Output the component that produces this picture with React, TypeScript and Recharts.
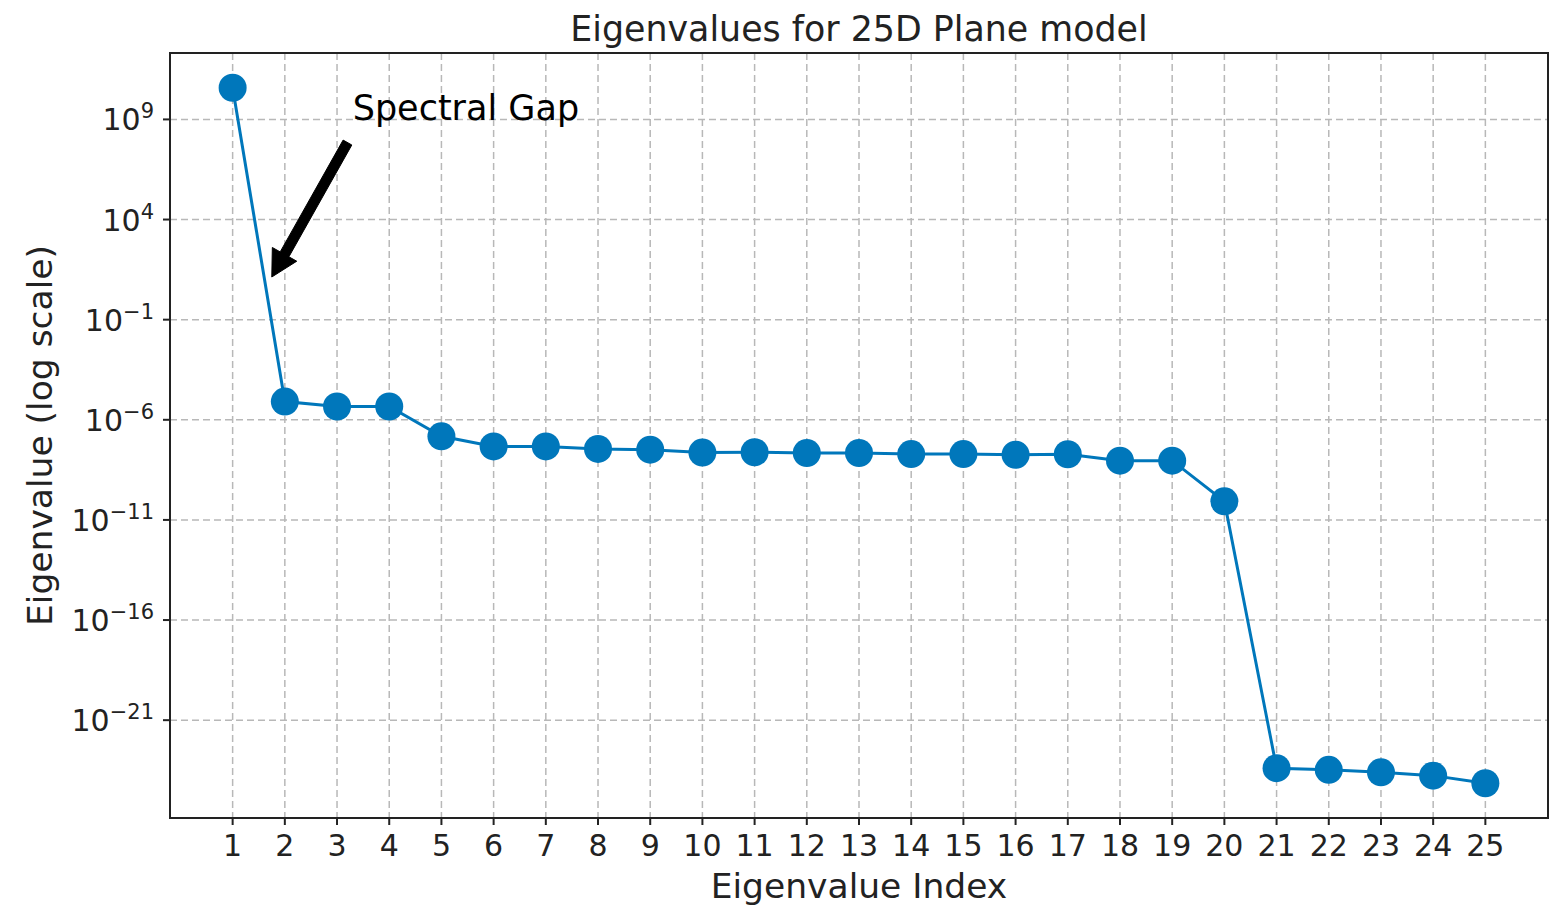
import React from 'react';
import {
  LineChart,
  Line,
  XAxis,
  YAxis,
  CartesianGrid,
  ReferenceArea,
  ReferenceLine,
  ReferenceDot,
} from 'recharts';

const FONT = '"DejaVu Sans", sans-serif';
const BLUE = '#0077bb';
const INK = '#222';

const indices = [1, 2, 3, 4, 5, 6, 7, 8, 9, 10, 11, 12, 13, 14, 15, 16, 17, 18, 19, 20, 21, 22, 23, 24, 25];
const eigenvalues = [
  3.8e10, 8.1e-6, 4.6e-6, 4.6e-6, 1.5e-7, 4.7e-8, 4.7e-8, 3.5e-8, 3.2e-8, 2.3e-8,
  2.4e-8, 2.2e-8, 2.2e-8, 1.95e-8, 1.95e-8, 1.8e-8, 1.9e-8, 9.1e-9, 9.1e-9, 8.5e-11,
  4.0e-24, 3.3e-24, 2.5e-24, 1.7e-24, 7.1e-25,
];
const yTicks = [1e9, 1e4, 1e-1, 1e-6, 1e-11, 1e-16, 1e-21];

// annotation: text anchor and arrow (tail -> tip), in data coordinates
const gapText = { x: 3.3, y: 1e9 };
const gapArrow = [
  { x: 3.2, y: 7e7 },
  { x: 1.75, y: 13.5 },
];

const data = indices.map((idx, i) => ({ idx, value: eigenvalues[i] }));

// 5% padding like matplotlib autoscale
const logs = eigenvalues.map((v) => Math.log10(v));
const lo = Math.min(...logs);
const hi = Math.max(...logs);
const pad = (hi - lo) * 0.05;
const yDomain = [10 ** (lo - pad), 10 ** (hi + pad)];
const xPad = (indices[indices.length - 1] - indices[0]) * 0.05;
const xDomain = [indices[0] - xPad, indices[indices.length - 1] + xPad];

const XTick = ({ x, y, payload }: any) => (
  <text x={x} y={y} dy={29} textAnchor="middle" fontFamily={FONT} fontSize={30} fill={INK}>
    {payload.value}
  </text>
);

const YTick = ({ x, y, payload }: any) => {
  const exp = Math.round(Math.log10(payload.value));
  const sup = exp < 0 ? `\u2212${-exp}` : `${exp}`;
  return (
    <text x={x - 7} y={y} dy={11} textAnchor="end" fontFamily={FONT} fontSize={30} fill={INK}>
      <tspan>10</tspan>
      <tspan dy={-12} fontSize={21}>{sup}</tspan>
    </text>
  );
};

const XLabel = ({ viewBox, value }: any) => (
  <text
    x={viewBox.x + viewBox.width / 2}
    y={viewBox.y + 80}
    textAnchor="middle"
    fontFamily={FONT}
    fontSize={34.5}
    fill={INK}
  >
    {value}
  </text>
);

const YLabel = ({ viewBox, value }: any) => {
  const cx = viewBox.x + 52;
  const cy = viewBox.y + viewBox.height / 2;
  return (
    <text
      x={cx}
      y={cy}
      transform={`rotate(-90 ${cx} ${cy})`}
      textAnchor="middle"
      fontFamily={FONT}
      fontSize={34.5}
      fill={INK}
    >
      {value}
    </text>
  );
};

// axes frame plus the title above it
const Frame = ({ x, y, width, height }: any) => (
  <g>
    <rect x={x} y={y} width={width} height={height} fill="none" stroke={INK} strokeWidth={2} />
    <text x={x + width / 2} y={y - 12} textAnchor="middle" fontFamily={FONT} fontSize={34.8} fill={INK}>
      Eigenvalues for 25D Plane model
    </text>
  </g>
);

const Arrow = ({ x1, y1, x2, y2 }: any) => {
  const dx = x2 - x1;
  const dy = y2 - y1;
  const len = Math.sqrt(dx * dx + dy * dy);
  const ux = dx / len;
  const uy = dy / len;
  const nx = -uy;
  const ny = ux;
  const shaft = 5;
  const head = 14;
  const headLen = 26;
  const bx = x2 - ux * headLen;
  const by = y2 - uy * headLen;
  const pts = [
    [x1 + nx * shaft, y1 + ny * shaft],
    [bx + nx * shaft, by + ny * shaft],
    [bx + nx * head, by + ny * head],
    [x2, y2],
    [bx - nx * head, by - ny * head],
    [bx - nx * shaft, by - ny * shaft],
    [x1 - nx * shaft, y1 - ny * shaft],
  ];
  return <polygon points={pts.map((p) => p.join(',')).join(' ')} fill="#000" stroke="#000" strokeWidth={1} />;
};

const GapText = ({ cx, cy }: any) => (
  <text x={cx} y={cy} dy={1} fontFamily={FONT} fontSize={35} fill="#000">
    Spectral Gap
  </text>
);

export default function App() {
  return (
    <div style={{ position: 'absolute', left: 0, top: 0, background: '#fff' }}>
      <LineChart width={1556} height={907} data={data} margin={{ top: 53, right: 8, left: 0, bottom: 0 }}>
        <CartesianGrid stroke="#b8b8b8" strokeWidth={1.5} strokeDasharray="7 4" />
        <XAxis
          dataKey="idx"
          type="number"
          domain={xDomain}
          allowDataOverflow
          ticks={indices}
          interval={0}
          height={89}
          tickSize={7}
          tickMargin={2}
          axisLine={{ stroke: INK, strokeWidth: 2 }}
          tickLine={{ stroke: INK, strokeWidth: 2 }}
          tick={<XTick />}
          label={{ value: 'Eigenvalue Index', content: XLabel }}
        />
        <YAxis
          type="number"
          scale="log"
          domain={yDomain}
          allowDataOverflow
          ticks={yTicks}
          interval={0}
          width={170}
          tickSize={7}
          tickMargin={2}
          axisLine={{ stroke: INK, strokeWidth: 2 }}
          tickLine={{ stroke: INK, strokeWidth: 2 }}
          tick={<YTick />}
          label={{ value: 'Eigenvalue (log scale)', content: YLabel }}
        />
        <ReferenceArea
          x1={xDomain[0]}
          x2={xDomain[1]}
          y1={yDomain[0]}
          y2={yDomain[1]}
          shape={<Frame />}
        />
        <Line
          dataKey="value"
          type="linear"
          stroke={BLUE}
          strokeWidth={3}
          dot={{ r: 14, fill: BLUE, stroke: 'none' }}
          activeDot={false}
          isAnimationActive={false}
        />
        <ReferenceLine segment={gapArrow} shape={<Arrow />} />
        <ReferenceDot x={gapText.x} y={gapText.y} r={0} shape={<GapText />} />
      </LineChart>
    </div>
  );
}
